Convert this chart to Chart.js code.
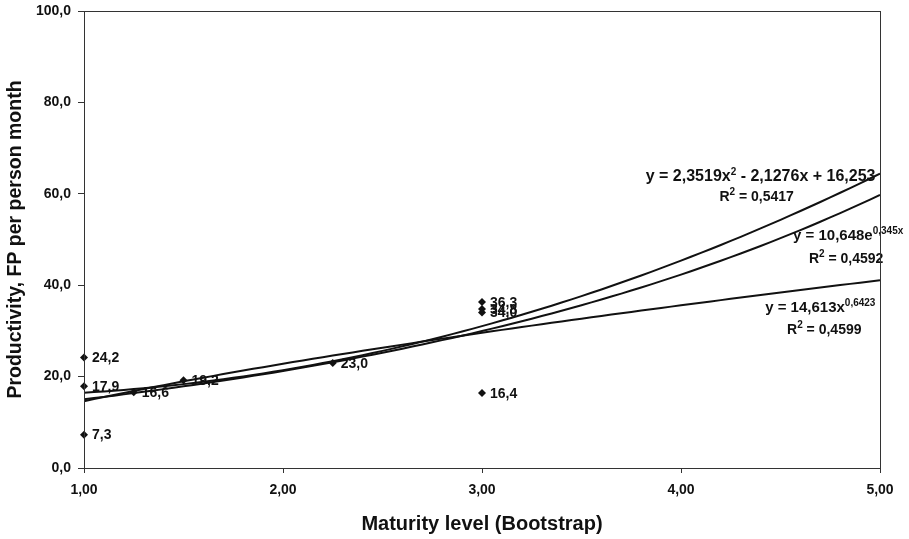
<!DOCTYPE html>
<html>
<head>
<meta charset="utf-8">
<script src="https://cdn.jsdelivr.net/npm/chart.js@4/dist/chart.umd.min.js"></script>
<style>
  html, body { margin: 0; padding: 0; background: #ffffff; }
  #wrap { width: 909px; height: 539px; }
</style>
</head>
<body>
<div id="wrap"><canvas id="c" width="909" height="539"></canvas></div>
<script>
// Observations: maturity level vs productivity
const maturity     = [1.00, 1.00, 1.00, 1.25, 1.50, 2.25, 3.00, 3.00, 3.00, 3.00];
const productivity = [24.2, 17.9, 7.3, 16.6, 19.2, 23.0, 36.3, 34.8, 34.0, 16.4];

// Trend line coefficients
const polyCoef = [16.253, -2.1276, 2.3519];   // c0 + c1*x + c2*x^2
const expCoef  = [10.648, 0.345];             // a * e^(b*x)
const powCoef  = [14.613, 0.6423];            // a * x^b
const fitR2    = [0.5417, 0.4592, 0.4599];    // polynomial, exponential, power

// Axis ticks
const xTicks = [1, 2, 3, 4, 5];
const yTicks = [0, 20, 40, 60, 80, 100];

const FONT = '"Liberation Sans", Arial, sans-serif';
const INK = '#111111';
const comma = (v, d) => v.toFixed(d).replace('.', ',');
const num = v => String(Math.abs(v)).replace('.', ',');

// Sample each fitted curve across the x range
const xs = [];
for (let i = 0; i <= 80; i++) xs.push(1 + i * 0.05);
const polyPts = xs.map(x => ({ x, y: polyCoef[0] + polyCoef[1] * x + polyCoef[2] * x * x }));
const expPts  = xs.map(x => ({ x, y: expCoef[0] * Math.exp(expCoef[1] * x) }));
const powPts  = xs.map(x => ({ x, y: powCoef[0] * Math.pow(x, powCoef[1]) }));

// Equation annotations (anchor in data units, centred on x); size = main font size
const eqLabels = [
  { x: 4.40, y: 62.8, size: 16, parts: [['y = ' + num(polyCoef[2]) + 'x'], ['2', 1], [' - ' + num(polyCoef[1]) + 'x + ' + num(polyCoef[0])]] },
  { x: 4.38, y: 58.4, size: 14, parts: [['R'], ['2', 1], [' = ' + num(fitR2[0])]] },
  { x: 4.84, y: 49.9, size: 15, parts: [['y = ' + num(expCoef[0]) + 'e'], [num(expCoef[1]) + 'x', 1]] },
  { x: 4.83, y: 44.9, size: 14, parts: [['R'], ['2', 1], [' = ' + num(fitR2[1])]] },
  { x: 4.70, y: 34.1, size: 15, parts: [['y = ' + num(powCoef[0]) + 'x'], [num(powCoef[1]), 1]] },
  { x: 4.72, y: 29.3, size: 14, parts: [['R'], ['2', 1], [' = ' + num(fitR2[2])]] }
];

const bgPlugin = {
  id: 'bg',
  beforeDraw(chart) {
    const ctx = chart.ctx;
    ctx.save();
    ctx.fillStyle = '#ffffff';
    ctx.fillRect(0, 0, chart.width, chart.height);
    ctx.restore();
  }
};

const framePlugin = {
  id: 'frame',
  afterDraw(chart) {
    const a = chart.chartArea, ctx = chart.ctx;
    ctx.save();
    ctx.strokeStyle = '#333333';
    ctx.lineWidth = 1;
    ctx.strokeRect(a.left + 0.5, a.top + 0.5, a.right - a.left, a.bottom - a.top);
    ctx.restore();
  }
};

const pointLabelPlugin = {
  id: 'pointLabels',
  afterDatasetsDraw(chart) {
    const ctx = chart.ctx;
    const meta = chart.getDatasetMeta(0);
    ctx.save();
    ctx.font = 'bold 14px ' + FONT;
    ctx.fillStyle = INK;
    ctx.textAlign = 'left';
    ctx.textBaseline = 'middle';
    meta.data.forEach((el, i) => {
      ctx.fillText(comma(productivity[i], 1), el.x + 8, el.y + 1);
    });
    ctx.restore();
  }
};

const equationPlugin = {
  id: 'equations',
  afterDatasetsDraw(chart) {
    const ctx = chart.ctx;
    const sx = chart.scales.x, sy = chart.scales.y;
    ctx.save();
    ctx.fillStyle = INK;
    ctx.textBaseline = 'alphabetic';
    ctx.textAlign = 'left';
    eqLabels.forEach(lab => {
      const mainFont = 'bold ' + lab.size + 'px ' + FONT;
      const supFont = 'bold 10px ' + FONT;
      let w = 0;
      lab.parts.forEach(p => { ctx.font = p[1] ? supFont : mainFont; w += ctx.measureText(p[0]).width; });
      let px = sx.getPixelForValue(lab.x) - w / 2;
      const py = sy.getPixelForValue(lab.y);
      lab.parts.forEach(p => {
        ctx.font = p[1] ? supFont : mainFont;
        ctx.fillText(p[0], px, p[1] ? py - 6 : py);
        px += ctx.measureText(p[0]).width;
      });
    });
    ctx.restore();
  }
};

const trendStyle = {
  type: 'line',
  borderColor: INK,
  borderWidth: 2,
  pointRadius: 0,
  fill: false,
  tension: 0
};

new Chart(document.getElementById('c'), {
  type: 'scatter',
  data: {
    datasets: [
      {
        label: 'Productivity',
        data: maturity.map((x, i) => ({ x, y: productivity[i] })),
        pointStyle: 'rectRot',
        pointRadius: 4,
        backgroundColor: INK,
        borderColor: INK,
        borderWidth: 0,
        clip: false
      },
      Object.assign({ label: 'Polynomial', data: polyPts }, trendStyle),
      Object.assign({ label: 'Exponential', data: expPts }, trendStyle),
      Object.assign({ label: 'Power', data: powPts }, trendStyle)
    ]
  },
  options: {
    responsive: false,
    devicePixelRatio: 1,
    animation: false,
    layout: { padding: { top: 11, right: 29, left: 0, bottom: 0 } },
    plugins: {
      legend: { display: false },
      tooltip: { enabled: false }
    },
    scales: {
      x: {
        type: 'linear',
        min: 1,
        max: 5,
        afterBuildTicks: s => { s.ticks = xTicks.map(v => ({ value: v })); },
        afterFit: s => { s.height = 71; s.paddingRight = 0; s.paddingLeft = 0; },
        ticks: {
          callback: v => comma(v, 2),
          font: { family: FONT, size: 14, weight: 'bold' },
          color: INK,
          padding: 9,
          maxRotation: 0,
          autoSkip: false
        },
        grid: { drawOnChartArea: false, tickLength: 5, color: '#333333' },
        border: { color: '#333333', width: 1 },
        title: {
          display: true,
          text: 'Maturity level (Bootstrap)',
          font: { family: FONT, size: 20, weight: 'bold' },
          color: INK,
          padding: { top: 0, bottom: 3 }
        }
      },
      y: {
        min: 0,
        max: 100,
        afterBuildTicks: s => { s.ticks = yTicks.map(v => ({ value: v })); },
        afterFit: s => { s.width = 84; s.paddingTop = 0; s.paddingBottom = 0; },
        ticks: {
          callback: v => comma(v, 1),
          font: { family: FONT, size: 14, weight: 'bold' },
          color: INK,
          padding: 7
        },
        grid: { drawOnChartArea: false, tickLength: 6, color: '#333333' },
        border: { color: '#333333', width: 1 },
        title: {
          display: true,
          text: 'Productivity, FP per person month',
          font: { family: FONT, size: 19.5, weight: 'bold' },
          color: INK,
          padding: { top: 4, bottom: 0 }
        }
      }
    }
  },
  plugins: [bgPlugin, framePlugin, pointLabelPlugin, equationPlugin]
});
</script>
</body>
</html>
